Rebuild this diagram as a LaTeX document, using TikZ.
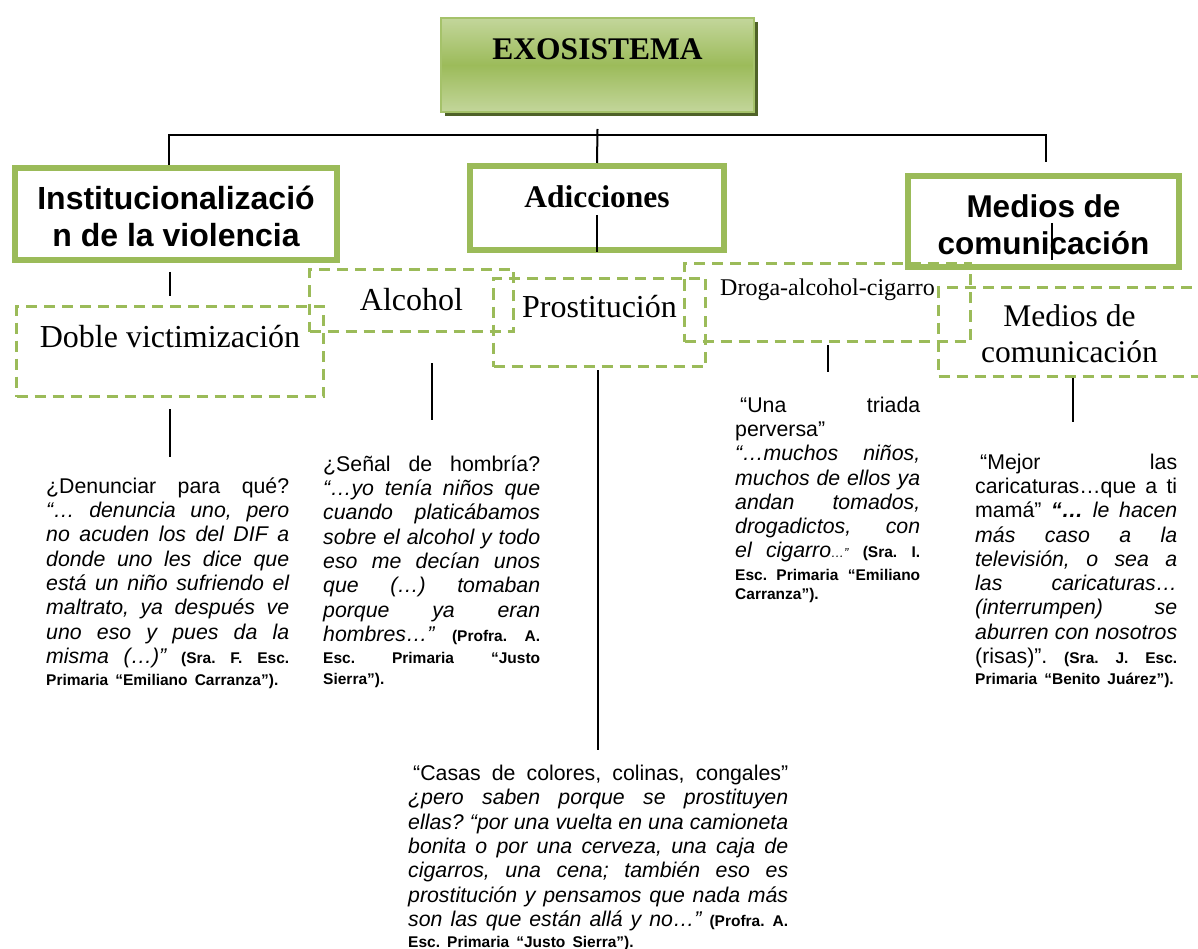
\documentclass[tikz,border=0pt]{standalone}
\usepackage{fontspec}
\setmainfont{Liberation Serif}
\newfontfamily\arialf{Liberation Sans}
\usepackage{tikz}
\usetikzlibrary{shadows}
\definecolor{boxgreen}{HTML}{9BBB59}
\definecolor{exolight}{HTML}{C3D69B}
\definecolor{exomid}{HTML}{9CBB5A}
\definecolor{exodark}{HTML}{4F6228}
\frenchspacing
\newcommand{\quotefont}{\arialf\fontsize{21.3}{24.3}\selectfont}
\newcommand{\cita}[1]{{\bfseries\fontsize{15.5}{18}\selectfont #1}}
\newcommand{\jline}[1]{\noindent\makebox[\hsize][s]{\spaceskip=.28em plus 1fil\relax #1}\par}

\begin{document}
\begin{tikzpicture}[x=1pt, y=-1pt,
        link/.style={black, line width=2pt},
        titlebox/.style={draw=boxgreen, line width=6pt, inner sep=0pt},
        subbox/.style={draw=boxgreen, line width=3pt, dash pattern=on 11pt off 7pt,
            inner sep=0pt, font=\fontsize{32}{36}\selectfont},
        quotetext/.style={inner sep=0pt, anchor=north west, align=left, font=\quotefont}]
        \path[fill=white, use as bounding box] (0,0) rectangle (1198,949);

        \node[draw=boxgreen!90!white, line width=2pt, inner sep=0pt,
            top color=exolight, bottom color=exolight, middle color=exomid,
            drop shadow={shadow xshift=4pt, shadow yshift=-4pt, fill=exodark, opacity=1},
            minimum width=313pt, text height=42pt, text depth=52pt, anchor=base,
            font=\bfseries\fontsize{31.5}{36}\selectfont] (exo) at (597.5,60) {EXOSISTEMA};

        \node[subbox, minimum width=307pt, text height=40.5pt, text depth=49.5pt, anchor=base] (doble) at (170,347) {Doble victimización};
        \node[subbox, minimum width=204pt, text height=40.5pt, text depth=21.5pt, anchor=base] (alcohol) at (411.5,310) {Alcohol};
        \node[subbox, minimum width=212pt, text height=38.5pt, text depth=49.5pt, anchor=base] (prost) at (599.5,317) {Prostitución};
        \node[subbox, minimum width=286pt, text height=32.5pt, text depth=45.5pt, anchor=base,
            font=\fontsize{24}{28}\selectfont] (droga) at (827.5,296) {Droga-alcohol-cigarro};
        \node[subbox, minimum width=262pt, minimum height=89pt, align=center,
            font=\fontsize{31.5}{36}\selectfont] (mediosb) at (1069.5,332) {\rule{0pt}{26pt}Medios de\\comunicación};

        \node[titlebox, minimum width=322pt, minimum height=92pt, align=center,
            font=\arialf\bfseries\fontsize{32}{37}\selectfont] (inst) at (176,214) {\rule{0pt}{29pt}Institucionalizació\\n de la violencia};
        \node[titlebox, minimum width=254pt, text height=42pt, text depth=42pt, anchor=base,
            font=\bfseries\fontsize{31.5}{36}\selectfont] (adic) at (597,208) {Adicciones};
        \node[titlebox, minimum width=271pt, minimum height=91pt, align=center,
            font=\arialf\bfseries\fontsize{31.5}{37}\selectfont] (medios) at (1043.5,221.5) {\rule{0pt}{30pt}Medios de\\comunicación};

        \node[quotetext, text width=243pt] (denuncia) at (46,477.5) {%
            \jline{¿Denunciar para qué?}
            \jline{\itshape “… denuncia uno, pero}
            \jline{\itshape no acuden los del DIF a}
            \jline{\itshape donde uno les dice que}
            \jline{\itshape está un niño sufriendo el}
            \jline{\itshape maltrato, ya después ve}
            \jline{\itshape uno eso y pues da la}
            \jline{{\itshape misma (…)”} \cita{(Sra. F. Esc.}}
            \vspace{-2pt}\noindent\cita{Primaria “Emiliano Carranza”).}\par};
        \node[quotetext, text width=217pt] (hombria) at (323,455.5) {%
            \jline{¿Señal de hombría?}
            \jline{\itshape “…yo tenía niños que}
            \jline{\itshape cuando platicábamos}
            \jline{\itshape sobre el alcohol y todo}
            \jline{\itshape eso me decían unos}
            \jline{\itshape que (…) tomaban}
            \jline{\itshape porque ya eran}
            \jline{{\itshape hombres…”} \cita{(Profra. A.}}
            \vspace{-2pt}\jline{\cita{Esc. Primaria “Justo}}
            \vspace{-4pt}\noindent\cita{Sierra”).}\par};
        \node[quotetext, text width=185pt] (triada) at (735,396.5) {%
            \jline{\hspace{5pt}“Una triada}
            \noindent perversa”\par
            \jline{\itshape “…muchos niños,}
            \jline{\itshape muchos de ellos ya}
            \jline{\itshape andan tomados,}
            \jline{\itshape drogadictos, con}
            \jline{{\itshape el cigarro{\fontsize{13}{15}\selectfont…”}} \cita{(Sra. I.}}
            \vspace{-2pt}\jline{\cita{Esc. Primaria “Emiliano}}
            \vspace{-5pt}\noindent\cita{Carranza”).}\par};
        \node[quotetext, text width=202pt] (caricatura) at (975,453.5) {%
            \jline{\hspace{5pt}“Mejor las}
            \jline{caricaturas…que a ti}
            \jline{mamá” {\bfseries\itshape “…} {\itshape le hacen}}
            \jline{\itshape más caso a la}
            \jline{\itshape televisión, o sea a}
            \jline{\itshape las caricaturas…}
            \jline{\itshape (interrumpen) se}
            \jline{\itshape aburren con nosotros}
            \jline{(risas)”. \cita{(Sra. J. Esc.}}
            \vspace{-3pt}\noindent\cita{Primaria “Benito Juárez”).}\par};
        \node[quotetext, text width=380pt] (casas) at (408,765) {%
            \jline{\hspace{5pt}“Casas de colores, colinas, congales”}
            \jline{\itshape ¿pero saben porque se prostituyen}
            \jline{\itshape ellas? “por una vuelta en una camioneta}
            \jline{\itshape bonita o por una cerveza, una caja de}
            \jline{\itshape cigarros, una cena; también eso es}
            \jline{\itshape prostitución y pensamos que nada más}
            \jline{{\itshape son las que están allá y no…”} \cita{(Profra. A.}}
            \vspace{-3.5pt}\noindent\cita{Esc. Primaria “Justo Sierra”).}\par};

        \coordinate (bus) at ([yshift=-22.5pt]exo.south);
        \coordinate (mtop) at ([xshift=3.5pt]mediosb.south);
        \draw[link] ([yshift=-16pt]exo.south) -- (adic.north);
        \draw[link] ([xshift=-7pt]inst.north) |- (bus) -| ([xshift=2.5pt,yshift=11pt]medios.north);
        \draw[link] ([yshift=-7pt]adic.center) -- ([yshift=1pt]adic.south);
        \draw[link] ([xshift=8.5pt,yshift=-1.5pt]medios.center) -- ([xshift=8.5pt,yshift=-38.5pt]medios.center);
        \draw[link, shorten <=9pt, shorten >=9pt] (inst.south -| doble.north) -- (doble.north);
        \draw[link, shorten <=11pt, shorten >=20.5pt] (doble.south) -- (doble.south |- denuncia.north);
        \draw[link, shorten <=30pt, shorten >=35.5pt] (alcohol.south -| hombria.north) -- (hombria.north);
        \draw[link, shorten <=2pt, shorten >=15pt] (prost.south -| casas.north) -- (casas.north);
        \draw[link, shorten <=2pt, shorten >=24.5pt] (droga.south) -- (droga.south |- triada.north);
        \draw[link, shorten >=31.5pt] (mtop) -- (mtop |- caricatura.north);
\end{tikzpicture}
\end{document}
